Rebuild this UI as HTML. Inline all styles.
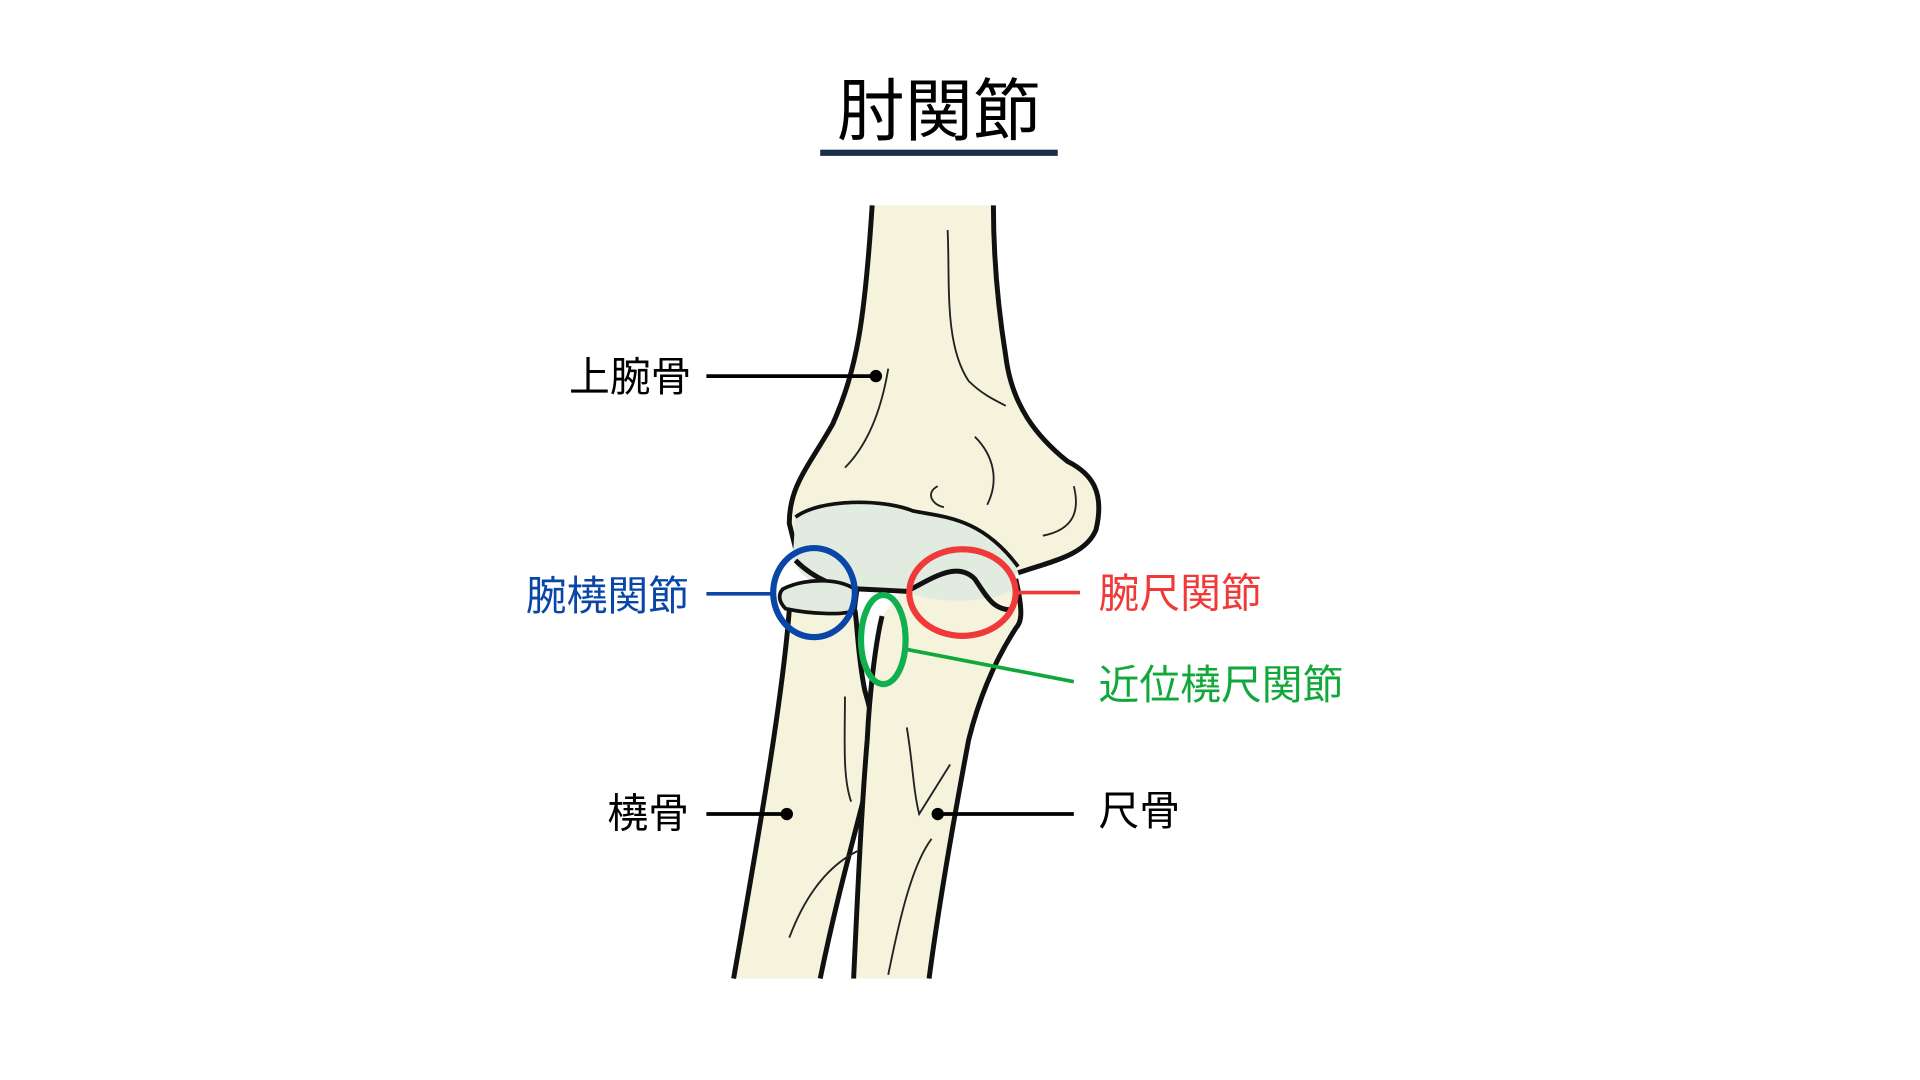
<!DOCTYPE html>
<html><head><meta charset="utf-8"><style>
html,body{margin:0;padding:0;background:#fff;width:1920px;height:1080px;overflow:hidden}
svg{display:block}
text{font-family:"Liberation Sans","Noto Sans CJK JP",sans-serif}
</style></head><body>
<svg width="1920" height="1080" viewBox="0 0 1552 873" xmlns="http://www.w3.org/2000/svg">
<rect width="1552" height="873" fill="#fff"/>
<text x="759" y="109" font-size="55" text-anchor="middle" fill="#000">肘関節</text>
<rect x="663" y="121" width="192" height="5" fill="#1a2e4a"/>
<g transform="translate(-7,-2)">
<path d="M712,168 C706,260 700,300 680,345 C660,380 645,395 645,425 L650,445 C700,470 780,455 830,465 C860,455 885,450 893,430 C900,400 890,385 870,375 C845,355 825,330 820,290 C812,240 810,200 810,168 Z" fill="#f5f3dc"/>
<path d="M712,168 C706,260 700,300 680,345 C660,380 645,395 645,425 L650,445 M810,168 C810,200 812,240 820,290 C825,330 845,355 870,375 C890,385 900,400 893,430 C885,450 860,455 830,465" fill="none" stroke="#111" stroke-width="4"/>
<path d="M645,495 C640,560 625,650 600,793 L670,793 C685,720 700,670 712,620 C716,600 712,580 706,560 C700,530 700,505 698,495 Z" fill="#f5f3dc"/>
<path d="M645,495 C640,560 625,650 600,793 M670,793 C685,720 700,670 712,620 C716,600 712,580 706,560 C700,530 700,505 698,495" fill="none" stroke="#111" stroke-width="4"/>
<path d="M738,478 C760,470 790,448 815,470 C830,480 835,500 828,510 C815,530 800,560 790,600 C775,680 765,740 758,793 L697,793 C700,730 703,660 708,600 C710,560 715,520 720,500 Z" fill="#f5f3dc"/>
<path d="M828,470 C835,500 832,505 828,510 C815,530 800,560 790,600 C775,680 765,740 758,793 M697,793 C700,730 703,660 708,600 C710,560 715,520 720,500" fill="none" stroke="#111" stroke-width="4"/>
<path d="M650,420 C670,405 720,405 745,415 C770,420 800,420 830,460 L825,480 C800,490 760,490 740,480 L700,478 C670,478 650,470 648,450 Z" fill="#e2ebdf"/>
<path d="M650,420 C670,405 720,405 745,415 C770,420 800,420 830,460" fill="none" stroke="#111" stroke-width="3"/>
<path d="M650,455 C665,470 685,478 700,478 L740,480 C760,470 780,455 795,470 C805,485 810,495 825,495" fill="none" stroke="#111" stroke-width="4"/>
<path d="M640,478 C660,468 690,470 700,480 L698,495 C690,500 660,498 642,494 C636,488 636,482 640,478 Z" fill="#e2ebdf" stroke="#111" stroke-width="3"/>
<g fill="none" stroke="#222" stroke-width="1.5">
<path d="M773,188 C775,230 770,280 790,310 C800,320 810,325 820,330"/>
<path d="M725,300 C720,330 710,360 690,380"/>
<path d="M795,355 C810,370 815,390 805,410"/>
<path d="M765,395 C755,400 760,410 770,412"/>
<path d="M875,395 C880,415 875,430 850,435"/>
<path d="M690,565 C690,600 688,630 695,650"/>
<path d="M645,760 C660,720 680,700 700,690"/>
<path d="M740,590 C745,620 745,640 750,660 L775,620"/>
<path d="M725,790 C735,740 745,700 760,680"/>
</g>

<line x1="578" y1="306" x2="715" y2="306" stroke="#000" stroke-width="3"/>
<circle cx="715" cy="306" r="5" fill="#000"/>
<line x1="578" y1="660" x2="643" y2="660" stroke="#000" stroke-width="3"/>
<circle cx="643" cy="660" r="5" fill="#000"/>
<line x1="765" y1="660" x2="875" y2="660" stroke="#000" stroke-width="3"/>
<circle cx="765" cy="660" r="5" fill="#000"/>
<line x1="578" y1="482" x2="632" y2="482" stroke="#0a46a8" stroke-width="3"/>
<line x1="828" y1="481" x2="880" y2="481" stroke="#f03a3a" stroke-width="3"/>
<line x1="740" y1="527" x2="875" y2="553" stroke="#10a838" stroke-width="3"/>
<ellipse cx="665" cy="481" rx="33" ry="36" fill="none" stroke="#0a46a8" stroke-width="5"/>
<ellipse cx="785" cy="481" rx="43" ry="35" fill="none" stroke="#f03a3a" stroke-width="5"/>
<ellipse cx="721" cy="519" rx="18" ry="36" fill="none" stroke="#10b050" stroke-width="5"/>
</g>

<g font-size="33">
<text x="460" y="316" fill="#000">上腕骨</text>
<text x="425" y="493" fill="#0a46a8">腕橈関節</text>
<text x="888" y="491" fill="#f03a3a">腕尺関節</text>
<text x="888" y="565" fill="#10a838">近位橈尺関節</text>
<text x="491" y="669" fill="#000">橈骨</text>
<text x="888" y="667" fill="#000">尺骨</text>
</g>
</svg>
</body></html>
